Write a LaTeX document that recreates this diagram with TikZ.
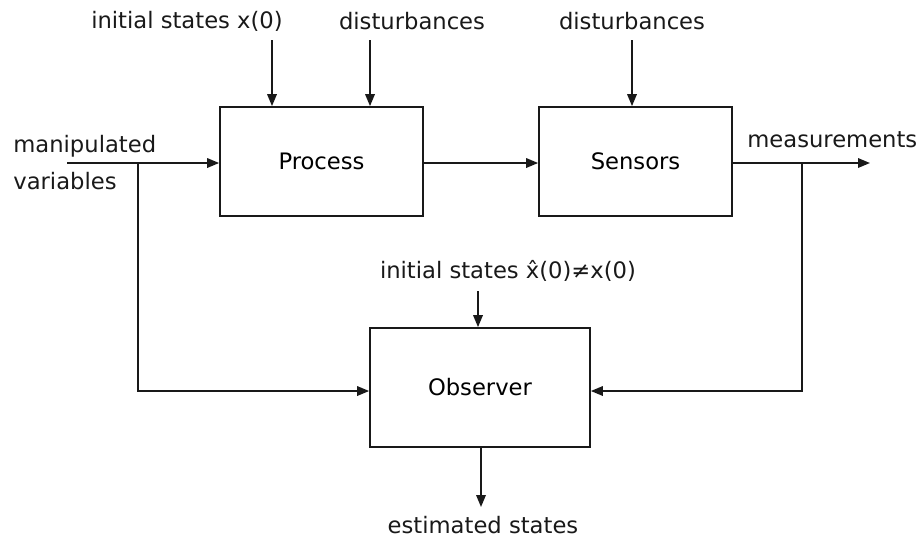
\documentclass[tikz,border=0pt]{standalone}
\usepackage{fontspec}
\setmainfont{DejaVu Sans}
\usepackage{tikz}
\usetikzlibrary{positioning,arrows.meta,calc}

\begin{document}
\begin{tikzpicture}[
  x=0.02cm, y=-0.02cm,
  font=\fontsize{12.9}{16}\selectfont,
  block/.style={draw=black!90, line width=1pt, minimum height=2.18cm, inner sep=0pt},
  arr/.style={-{Triangle[length=2.4mm, width=1.9mm]}, black!90, line width=1pt},
  lab/.style={inner sep=0pt, text=black!90},
]
\useasboundingbox (0,0) rectangle (919,539);
% ---- blocks ----
\node[block, minimum width=4.06cm] (proc) at (321.5,161.5) {Process};
\node[block, minimum width=3.86cm] (sens) at (635.5,161.5) {Sensors};
\node[block, minimum width=4.4cm, minimum height=2.38cm] (obs) at (480,387.5) {Observer};
% ---- signals ----
\coordinate (uin) at (67,163);
\coordinate (utap) at (138,163);
\coordinate (ytap) at (802,163);
\coordinate (yout) at (870,163);
\coordinate (obsin) at (0,391);
\node[lab, anchor=base west] (ulab1) at (13,152) {manipulated};
\node[lab, anchor=base west] (ulab2) at (13,189) {variables};
\node[lab, anchor=base west] (ylab) at (747,147) {measurements};
\node[lab] (x0lab) at (187,21) {initial states x(0)};
\node[lab] (d1lab) at (412,21) {disturbances};
\node[lab] (d2lab) at (632,21) {disturbances};
\node[lab] (xhlab) at (508,271) {initial states x̂(0)≠x(0)};
\node[lab, anchor=base] (xelab) at (483,533) {estimated states};
\coordinate (x0in) at (272,40);
\coordinate (d1in) at (370,40);
\coordinate (d2in) at (632,40);
% ---- arrows ----
\draw[arr] (uin) -- (uin -| proc.west);
\draw[arr] (proc.east |- uin) -- (sens.west |- uin);
\draw[arr] (sens.east |- ytap) -- (yout);
\draw[arr] (x0in) -- (x0in |- proc.north);
\draw[arr] (d1in) -- (d1in |- proc.north);
\draw[arr] (d2in) -- (d2in |- sens.north);
\draw[arr] (utap) |- (obs.west |- obsin);
\draw[arr] (ytap) |- (obs.east |- obsin);
\draw[arr] (478,291) -- (obs.north -| 478,0);
\draw[arr] (obs.south -| 481,0) -- (481,507);
\end{tikzpicture}
\end{document}
